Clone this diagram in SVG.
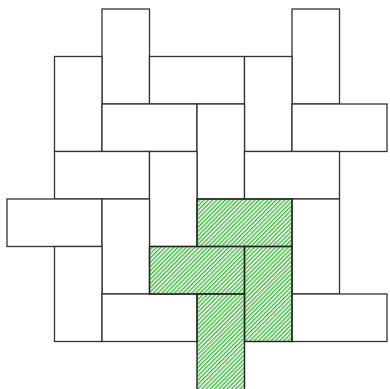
<svg xmlns="http://www.w3.org/2000/svg" width="390" height="389" viewBox="0 0 390 389">
<defs>
<pattern id="hatch" patternUnits="userSpaceOnUse" width="3" height="3" patternTransform="rotate(45)">
<line x1="0.75" y1="0" x2="0.75" y2="3" stroke="#3cb83c" stroke-width="1.4"/>
</pattern>
<style>
.t{fill:#fff;stroke:#333;stroke-width:1.3}
.g{fill:url(#hatch);stroke:#222;stroke-width:1.4}
</style>
</defs>
<rect width="390" height="389" fill="#fff"/>
<g id="tiles">
<rect id="v1" class="t" x="102" y="9" width="47.5" height="95"/>
<rect id="v2" class="t" x="292" y="9" width="47.5" height="95"/>
<rect id="v3" class="t" x="54.5" y="56.5" width="47.5" height="95"/>
<rect id="h1" class="t" x="149.5" y="56.5" width="95" height="47.5"/>
<rect id="v4" class="t" x="244.5" y="56.5" width="47.5" height="95"/>
<rect id="h2" class="t" x="102" y="104" width="95" height="47.5"/>
<rect id="v5" class="t" x="197" y="104" width="47.5" height="95"/>
<rect id="h3" class="t" x="292" y="104" width="95" height="47.5"/>
<rect id="h4" class="t" x="54.5" y="151.5" width="95" height="47.5"/>
<rect id="v6" class="t" x="149.5" y="151.5" width="47.5" height="95"/>
<rect id="h5" class="t" x="244.5" y="151.5" width="95" height="47.5"/>
<rect id="h6" class="t" x="7" y="199" width="95" height="47.5"/>
<rect id="v7" class="t" x="102" y="199" width="47.5" height="95"/>
<rect id="v8" class="t" x="292" y="199" width="47.5" height="95"/>
<rect id="v9" class="t" x="54.5" y="246.5" width="47.5" height="95"/>
<rect id="h7" class="t" x="102" y="294" width="95" height="47.5"/>
<rect id="h8" class="t" x="292" y="294" width="95" height="47.5"/>
</g>
<g id="green">
<rect id="g1" class="g" x="197" y="199" width="95" height="47.5"/>
<rect id="g2" class="g" x="149.5" y="246.5" width="95" height="47.5"/>
<rect id="g3" class="g" x="244.5" y="246.5" width="47.5" height="95"/>
<rect id="g4" class="g" x="197" y="294" width="47.5" height="96"/>
</g>
</svg>
